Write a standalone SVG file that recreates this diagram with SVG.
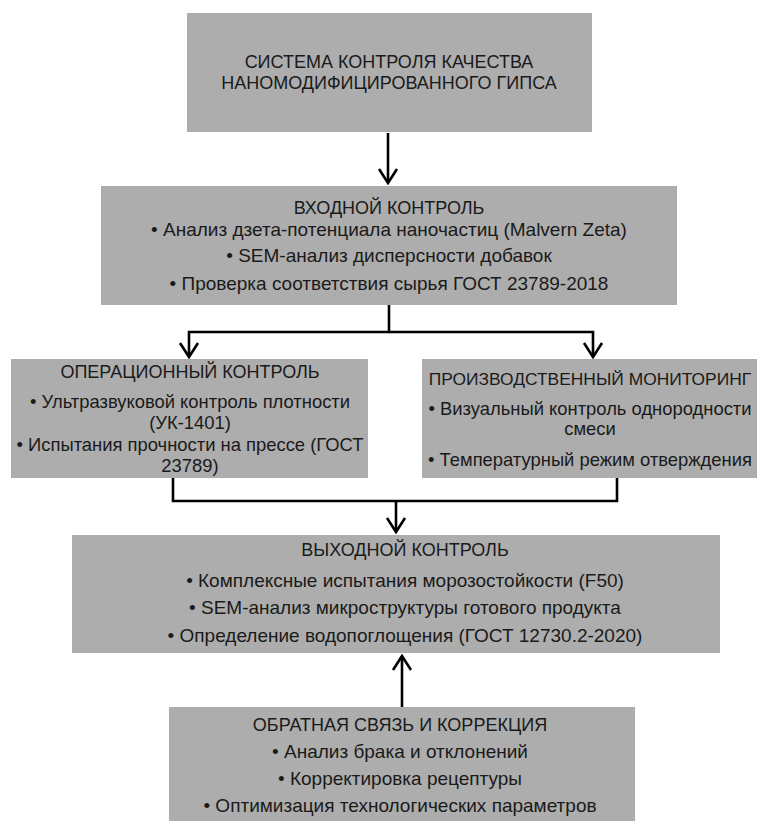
<svg xmlns="http://www.w3.org/2000/svg" width="766" height="821" viewBox="0 0 766 821">
<style>
.box{fill:#adadad}
text{font-family:"Liberation Sans","Noto Sans",Arial,sans-serif;font-size:19px;fill:#1a1a1a;text-anchor:middle}
.t{font-size:18px}
.t2{font-size:17.4px}
.s{font-size:18.4px}
.c{stroke:#000;stroke-width:2.6;fill:none}
</style>
<defs>
<marker id="ah" viewBox="-2 -11 18 22" refX="14" refY="0" markerWidth="18" markerHeight="22" markerUnits="userSpaceOnUse" orient="auto">
<path d="M0,-9 L14,0 L0,9" fill="none" stroke="#000" stroke-width="2.6"/>
</marker>
</defs>
<rect width="766" height="821" fill="#fff"/>
<g id="n1">
<rect class="box" x="187" y="13" width="405" height="119"/>
<text class="t" x="389" y="68">СИСТЕМА КОНТРОЛЯ КАЧЕСТВА</text>
<text class="t" x="389" y="89">НАНОМОДИФИЦИРОВАННОГО ГИПСА</text>
</g>
<g id="n2">
<rect class="box" x="101" y="186" width="576" height="119"/>
<text class="t" x="389" y="214">ВХОДНОЙ КОНТРОЛЬ</text>
<text x="389" y="236">• Анализ дзета-потенциала наночастиц (Malvern Zeta)</text>
<text x="389" y="262">• SEM-анализ дисперсности добавок</text>
<text x="389" y="290">• Проверка соответствия сырья ГОСТ 23789-2018</text>
</g>
<g id="n3">
<rect class="box" x="11" y="359" width="357" height="119"/>
<text class="t" x="190" y="378">ОПЕРАЦИОННЫЙ КОНТРОЛЬ</text>
<text class="s" x="190" y="408">• Ультразвуковой контроль плотности</text>
<text class="s" x="190" y="429">(УК-1401)</text>
<text class="s" x="190" y="451">• Испытания прочности на прессе (ГОСТ</text>
<text class="s" x="190" y="472">23789)</text>
</g>
<g id="n4">
<rect class="box" x="422" y="359" width="335" height="119"/>
<text class="t2" x="590" y="385">ПРОИЗВОДСТВЕННЫЙ МОНИТОРИНГ</text>
<text class="s" x="590" y="415">• Визуальный контроль однородности</text>
<text class="s" x="590" y="435">смеси</text>
<text class="s" x="590" y="466">• Температурный режим отверждения</text>
</g>
<g id="n5">
<rect class="box" x="72" y="535" width="648" height="118"/>
<text class="t" x="405" y="556">ВЫХОДНОЙ КОНТРОЛЬ</text>
<text x="405" y="587">• Комплексные испытания морозостойкости (F50)</text>
<text x="405" y="614">• SEM-анализ микроструктуры готового продукта</text>
<text x="405" y="642">• Определение водопоглощения (ГОСТ 12730.2-2020)</text>
</g>
<g id="n6">
<rect class="box" x="169" y="707" width="466" height="120"/>
<text class="t" x="400" y="731">ОБРАТНАЯ СВЯЗЬ И КОРРЕКЦИЯ</text>
<text x="400" y="758">• Анализ брака и отклонений</text>
<text x="400" y="785">• Корректировка рецептуры</text>
<text x="400" y="812">• Оптимизация технологических параметров</text>
</g>
<g id="connectors">
<path class="c" d="M388,133 V183" marker-end="url(#ah)"/>
<path class="c" d="M389,305 V332 H189 V357" marker-end="url(#ah)"/>
<path class="c" d="M389,332 H593 V357" marker-end="url(#ah)"/>
<path class="c" d="M173,478 V501 H617 V478"/>
<path class="c" d="M396,501 V532" marker-end="url(#ah)"/>
<path class="c" d="M402,707 V656" marker-end="url(#ah)"/>
</g>
</svg>
